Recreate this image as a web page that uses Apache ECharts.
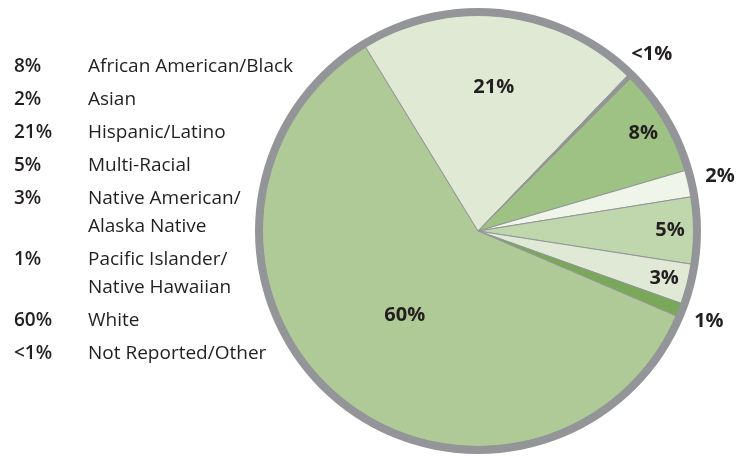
<!DOCTYPE html>
<html>
<head>
<meta charset="utf-8">
<script src="https://cdn.jsdelivr.net/npm/echarts@6/dist/echarts.min.js"></script>
<style>
  html, body { margin: 0; padding: 0; background: #ffffff; }
  #chart { width: 745px; height: 456px; }
</style>
</head>
<body>
<div id="chart"></div>
<script>
// ---- data ----
const categories = ['African American/Black', 'Asian', 'Multi-Racial', 'Native American/Alaska Native',
  'Pacific Islander/Native Hawaiian', 'White', 'Hispanic/Latino', 'Not Reported/Other'];
const values = [8, 2, 5, 3, 1, 60, 21, 0.3];
const valueLabels = ['8%', '2%', '5%', '3%', '1%', '60%', '21%', '<1%'];
const legendOrder = ['African American/Black', 'Asian', 'Hispanic/Latino', 'Multi-Racial',
  'Native American/Alaska Native', 'Pacific Islander/Native Hawaiian', 'White', 'Not Reported/Other'];
const legendLines = {
  'Native American/Alaska Native': ['Native American/', 'Alaska Native'],
  'Pacific Islander/Native Hawaiian': ['Pacific Islander/', 'Native Hawaiian']
};

// ---- styles ----
const sliceColors = ['#9dc283', '#eff5e9', '#c0d7ae', '#dfe9d5', '#78a858', '#afca97', '#dfe9d4', '#939598'];
const edgeGray = '#939598';
const textColor = '#231f20';
const FONT = 'Open Sans';
// which label band each slice label sits in
const labelBand = { '60%': 'core', '21%': 'upper', '8%': 'rim', '5%': 'rim', '3%': 'rim',
  '<1%': 'outside', '2%': 'outside', '1%': 'outside' };
const bands = {
  core: [0, 218],
  upper: [68, 216],
  rim: [162, 216],
  outside: [234, 256]
};
const CENTER = [478, 231];

const pieData = categories.map((c, i) => ({
  name: c, value: values[i], itemStyle: { color: sliceColors[i] }
}));

function bandSeries(band) {
  return {
    type: 'pie',
    silent: true,
    center: CENTER,
    radius: bands[band],
    startAngle: 45,
    clockwise: true,
    avoidLabelOverlap: false,
    emphasis: { disabled: true },
    tooltip: { show: false },
    legendHoverLink: false,
    itemStyle: { color: 'rgba(0,0,0,0)', borderWidth: 0 },
    label: {
      show: true,
      position: 'inside',
      color: textColor,
      fontFamily: FONT,
      fontWeight: 'bold',
      fontSize: 20,
      formatter: p => (labelBand[valueLabels[p.dataIndex]] === band ? valueLabels[p.dataIndex] : '')
    },
    labelLine: { show: false },
    data: categories.map((c, i) => ({ name: c, value: values[i] })),
    z: 5
  };
}

const chart = echarts.init(document.getElementById('chart'), null, { renderer: 'canvas' });
chart.setOption({
  backgroundColor: '#ffffff',
  animation: false,
  legend: {
    orient: 'vertical',
    left: 9,
    top: 53,
    padding: 0,
    icon: 'none',
    itemWidth: 0,
    itemHeight: 0,
    itemGap: 5,
    selectedMode: false,
    data: legendOrder,
    formatter: name => {
      const lbl = valueLabels[categories.indexOf(name)];
      const lines = legendLines[name] || [name];
      return lines.map((l, i) => '{p|' + (i === 0 ? lbl : ' ') + '}{n|' + l + '}').join('\n');
    },
    textStyle: {
      fontFamily: FONT,
      fontSize: 19,
      lineHeight: 28,
      color: textColor,
      rich: {
        p: { width: 74, fontFamily: FONT, fontSize: 19, fontWeight: 600, color: textColor, lineHeight: 28 },
        n: { fontFamily: FONT, fontSize: 19, color: textColor, lineHeight: 28 }
      }
    }
  },
  series: [
    {
      // outer gray ring
      type: 'pie',
      silent: true,
      center: CENTER,
      radius: [215, 223],
      label: { show: false },
      labelLine: { show: false },
      emphasis: { disabled: true },
      itemStyle: { color: edgeGray, borderWidth: 0 },
      legendHoverLink: false,
      data: [{ name: '__ring', value: 1 }],
      z: 3
    },
    {
      type: 'pie',
      center: CENTER,
      radius: [0, 216],
      startAngle: 45,
      clockwise: true,
      avoidLabelOverlap: false,
      emphasis: { disabled: true },
      itemStyle: { borderColor: edgeGray, borderWidth: 1 },
      label: { show: false },
      labelLine: { show: false },
      data: pieData,
      z: 2
    },
    bandSeries('core'),
    bandSeries('upper'),
    bandSeries('rim'),
    bandSeries('outside')
  ]
});
</script>
</body>
</html>
